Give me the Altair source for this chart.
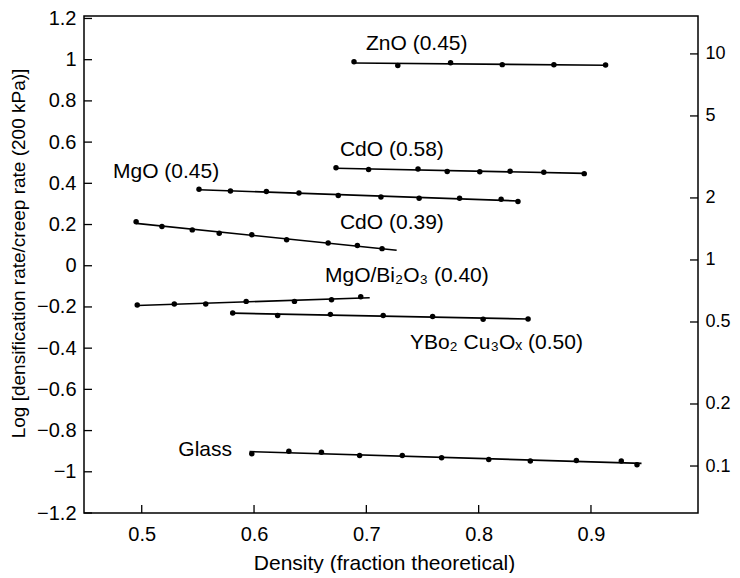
import altair as alt
import pandas as pd
import numpy as np

# ---- data ----
series = ["ZnO", "CdO58", "MgO", "CdO39", "MgOBi", "YBCO", "Glass"]

zno_x = [0.689, 0.728, 0.775, 0.821, 0.867, 0.913]
zno_y = [0.990, 0.972, 0.985, 0.976, 0.975, 0.974]

cdo58_x = [0.673, 0.702, 0.746, 0.772, 0.801, 0.828, 0.858, 0.894]
cdo58_y = [0.475, 0.467, 0.470, 0.457, 0.456, 0.459, 0.454, 0.447]

mgo_x = [0.551, 0.579, 0.611, 0.640, 0.675, 0.713, 0.747, 0.783, 0.820, 0.835]
mgo_y = [0.371, 0.363, 0.360, 0.353, 0.341, 0.334, 0.328, 0.328, 0.323, 0.312]

cdo39_x = [0.495, 0.518, 0.545, 0.569, 0.598, 0.629, 0.666, 0.692, 0.714]
cdo39_y = [0.214, 0.190, 0.174, 0.158, 0.150, 0.126, 0.110, 0.098, 0.083]

mgobi_x = [0.496, 0.529, 0.557, 0.593, 0.636, 0.669, 0.695]
mgobi_y = [-0.190, -0.186, -0.186, -0.173, -0.173, -0.165, -0.150]

ybco_x = [0.581, 0.621, 0.668, 0.715, 0.759, 0.804, 0.844]
ybco_y = [-0.229, -0.241, -0.236, -0.241, -0.246, -0.260, -0.258]

glass_x = [0.598, 0.631, 0.660, 0.694, 0.732, 0.767, 0.809, 0.846, 0.887, 0.927, 0.941]
glass_y = [-0.913, -0.900, -0.905, -0.921, -0.921, -0.932, -0.940, -0.948, -0.945, -0.948, -0.966]

# x-extent of each fitted line
line_start = [0.689, 0.673, 0.551, 0.495, 0.496, 0.581, 0.596]
line_end = [0.913, 0.894, 0.835, 0.727, 0.703, 0.844, 0.945]

# annotations
label_text = ["ZnO (0.45)", "CdO (0.58)", "MgO (0.45)", "CdO (0.39)",
              "MgO/Bi₂O₃ (0.40)", "YBo₂ Cu₃Oₓ (0.50)", "Glass"]
label_x = [0.6997, 0.6765, 0.4744, 0.6765, 0.6632, 0.7388, 0.5804]
label_y = [1.078, 0.563, 0.453, 0.208, -0.051, -0.373, -0.896]
label_align = ["left", "left", "left", "left", "left", "left", "right"]

x_ticks = [0.5, 0.6, 0.7, 0.8, 0.9]
y_ticks = [-1.2, -1.0, -0.8, -0.6, -0.4, -0.2, 0.0, 0.2, 0.4, 0.6, 0.8, 1.0, 1.2]
right_ticks = [0.1, 0.2, 0.5, 1, 2, 5, 10]

# ---- tables ----
xs = [zno_x, cdo58_x, mgo_x, cdo39_x, mgobi_x, ybco_x, glass_x]
ys = [zno_y, cdo58_y, mgo_y, cdo39_y, mgobi_y, ybco_y, glass_y]
pts = pd.DataFrame([{"s": s, "x": a, "y": b}
                    for s, xx, yy in zip(series, xs, ys) for a, b in zip(xx, yy)])
rows = []
for s, xx, yy, a, b in zip(series, xs, ys, line_start, line_end):
    k, c = np.polyfit(xx, yy, 1)
    rows.append({"s": s, "x": a, "y": k * a + c})
    rows.append({"s": s, "x": b, "y": k * b + c})
lines = pd.DataFrame(rows)
labels = pd.DataFrame({"t": label_text, "x": label_x, "y": label_y, "a": label_align})

W, H = 614, 497
FONT = "Liberation Sans"
FS = 21

xscale = alt.Scale(domain=[0.4486, 0.9953], nice=False, zero=False)
yscale = alt.Scale(domain=[-1.2, 1.212], nice=False, zero=False)

X = alt.X("x:Q", scale=xscale,
          axis=alt.Axis(values=x_ticks, format=".1f", ticks=False, tickSize=0, domain=False,
                        grid=False, labelPadding=11, labelFontSize=20,
                        title="Density (fraction theoretical)", titleFontSize=21,
                        titleX=300, titleY=50, titleBaseline="middle"))
Y = alt.Y("y:Q", scale=yscale,
          axis=alt.Axis(values=y_ticks, format=".1~f", ticks=False, tickSize=0, domain=False,
                        grid=False, labelPadding=8, labelFontSize=20,
                        title="Log [densification rate/creep rate (200 kPa)]", titleFontSize=19,
                        titleX=-66, titleY=237, titleBaseline="middle", titleAngle=-90,
                        titleAlign="center"))

points = alt.Chart(pts).mark_circle(size=30, color="black", opacity=1).encode(x=X, y=Y)
fit = alt.Chart(lines).mark_line(color="black", strokeWidth=1.6).encode(
    x=alt.X("x:Q", scale=xscale), y=alt.Y("y:Q", scale=yscale), detail="s:N")

txt_left = alt.Chart(labels[labels.a == "left"]).mark_text(
    align="left", baseline="middle", font=FONT, fontSize=FS, color="black").encode(
    x=alt.X("x:Q", scale=xscale), y=alt.Y("y:Q", scale=yscale), text="t:N")
txt_right = alt.Chart(labels[labels.a == "right"]).mark_text(
    align="right", baseline="middle", font=FONT, fontSize=FS, color="black").encode(
    x=alt.X("x:Q", scale=xscale), y=alt.Y("y:Q", scale=yscale), text="t:N")

left_ticks = alt.Chart(pd.DataFrame({"y": y_ticks})).mark_rule(color="black", strokeWidth=1.3).encode(
    y=alt.Y("y:Q", scale=yscale), x=alt.value(0), x2=alt.value(8))
bottom_ticks = alt.Chart(pd.DataFrame({"x": x_ticks})).mark_rule(color="black", strokeWidth=1.3).encode(
    x=alt.X("x:Q", scale=xscale), y=alt.value(H), y2=alt.value(H - 8))

main = alt.layer(left_ticks, bottom_ticks, fit, points, txt_left, txt_right)

off = 0.028
right = alt.Chart(pd.DataFrame({"v": right_ticks})).mark_rule(color="black", strokeWidth=1.3).encode(
    y=alt.Y("v:Q",
            scale=alt.Scale(type="log", domain=[10 ** (-1.2 - off), 10 ** (1.212 - off)], nice=False),
            axis=alt.Axis(orient="right", values=right_ticks, format="~g", ticks=False, tickSize=0,
                          domain=False, grid=False, labelPadding=7, labelFontSize=18, title=None)),
    x=alt.value(W - 8), x2=alt.value(W))

chart = alt.layer(main, right).resolve_scale(y="independent").properties(
    width=W, height=H,
    padding={"left": 76, "top": 8, "right": 34, "bottom": 60},
    autosize=alt.AutoSizeParams(type="none"),
).configure_view(stroke="black", strokeWidth=1.5).configure_axis(
    labelFont=FONT, titleFont=FONT,
    labelColor="black", titleColor="black", titleFontWeight="normal")

chart.save("out.html", embed_options={"renderer": "svg", "actions": False})
